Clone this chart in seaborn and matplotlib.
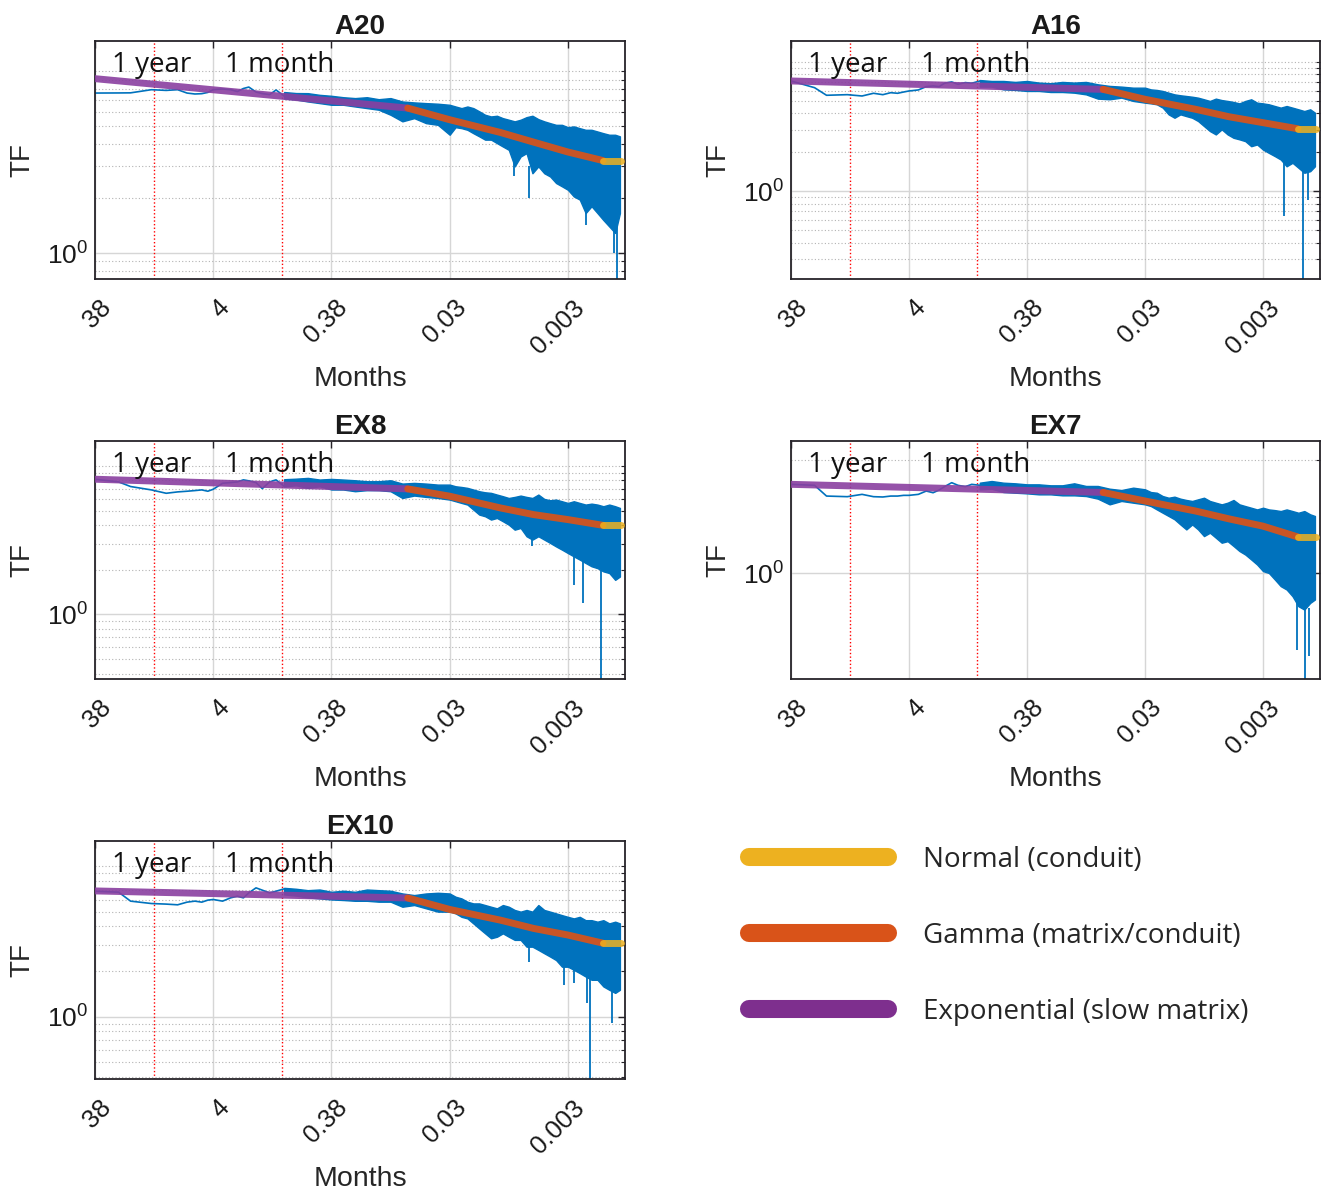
import numpy as np
import pandas as pd
import matplotlib
matplotlib.use("Agg")
import matplotlib.pyplot as plt
import seaborn as sns
from matplotlib import ticker
from matplotlib.lines import Line2D
import matplotlib.transforms as mtransforms

sns.set_theme(style="white")
plt.rcParams['font.family'] = ['Liberation Sans', 'DejaVu Sans']
plt.rcParams['mathtext.fontset'] = 'custom'
plt.rcParams['mathtext.rm'] = 'Liberation Sans'
plt.rcParams['mathtext.it'] = 'Liberation Sans:italic'
plt.rcParams['mathtext.bf'] = 'Liberation Sans:bold'

# ---------------- data ----------------
PANELS = ["A20", "A16", "EX8", "EX7", "EX10"]
XTICKS = [38, 3.8, 0.38, 0.038, 0.0038]
XTICKLABELS = ["38", "4", "0.38", "0.03", "0.003"]
XLIM = [38, 0.00125]
ONE_YEAR = 12
ONE_MONTH = 1

# period (months) of the smooth low-frequency part of the spectrum
X_LINE = [38, 24, 19, 12.67, 9.5, 7.6, 6.333, 5.429, 4.75, 4.222, 3.8, 3.167,
          2.714, 2.375, 2.111, 1.9, 1.652, 1.462, 1.267, 1.118, 0.95]
# period (months) where the spectrum is noisy (drawn as envelope)
X_BAND = [0.9545, 0.7582, 0.6022, 0.4784, 0.38, 0.3018, 0.2398, 0.1905, 0.1513, 0.1202,
          0.09545, 0.07582, 0.06022, 0.04784,
          0.038, 0.03387, 0.03018, 0.02690, 0.02398, 0.02137, 0.01905, 0.01697, 0.01513, 0.01349,
          0.01202, 0.01071, 0.009545, 0.008507, 0.007582, 0.006758, 0.006022, 0.005368, 0.004784, 0.004264,
          0.0038, 0.003387, 0.003018, 0.002690, 0.002398, 0.002137, 0.001905, 0.001697, 0.001513,
          0.00138]

X_EXP = [38, 0.086]
X_GAMMA = [0.086, 0.038, 0.01412, 0.007409, 0.0038, 0.001918]
X_NORMAL = [0.001918, 0.00135]

# --- A20
A20_LINE = [7.60, 7.61, 7.62, 7.93, 7.86, 7.93, 7.60, 7.51, 7.54, 7.66, 7.93, 8.00,
            7.93, 7.75, 8.05, 8.20, 7.70, 7.55, 7.45, 7.90, 7.30]
A20_HI = [7.70, 7.60, 7.59, 7.43, 7.34, 7.21, 7.13, 7.21, 7.03, 7.13, 6.83, 6.75, 6.69, 6.64,
          6.55, 6.41, 6.28, 6.41, 6.28, 6.03, 5.77, 5.65, 5.70, 5.53,
          5.42, 5.31, 5.42, 5.60, 5.70, 5.46, 5.31, 5.19, 5.08, 5.08,
          4.93, 4.98, 4.87, 4.77, 4.77, 4.67, 4.57, 4.48, 4.48,
          4.39]
A20_LO = [7.10, 7.00, 6.83, 6.69, 6.55, 6.55, 6.41, 6.28, 6.15, 5.77, 5.31, 5.53, 5.19, 5.08,
          4.48, 4.93, 4.87, 4.77, 4.57, 4.39, 4.21, 4.21, 4.03, 3.86,
          3.70, 3.00, 3.40, 3.55, 2.75, 3.00, 2.75, 2.64, 2.43, 2.33,
          2.23, 2.05, 1.97, 1.66, 1.81, 1.66, 1.52, 1.40, 1.29,
          1.66]
A20_SPK_X = [0.01096, 0.008125, 0.00269, 0.001548, 0.001462]
A20_SPK_LO = [2.64, 2.00, 1.43, 1.00, 0.72]
A20_SPK_TOP = [3.2, 3.0, 1.9, 1.5, 1.5]
A20_EXP = [9.12, 6.28]
A20_GAMMA = [6.28, 5.42, 4.61, 4.08, 3.60, 3.23]
A20_NORMAL = [3.23, 3.23]
A20_YLIM = [0.72, 14.7]
A20_MINOR = [0.8, 0.9, 2, 3, 4, 5, 6, 7, 8, 9, 10]

# --- A16
A16_LINE = [7.12, 6.32, 5.52, 5.58, 5.45, 5.72, 5.58, 5.78, 5.72, 5.85, 5.96, 6.07,
            6.44, 6.52, 6.44, 6.84, 7.00, 6.71, 6.92, 6.84, 7.12]
A16_HI = [7.24, 7.12, 7.12, 7.00, 7.12, 6.92, 6.84, 7.00, 6.92, 7.00, 6.71, 6.52, 6.44, 6.32,
          6.32, 6.13, 6.07, 5.96, 5.78, 5.61, 5.52, 5.45, 5.38, 5.29,
          5.14, 4.99, 5.20, 5.07, 4.99, 4.90, 4.78, 4.99, 5.14, 4.84,
          4.78, 4.70, 4.56, 4.43, 4.56, 4.43, 4.30, 4.17, 4.30,
          4.05]
A16_LO = [6.44, 6.44, 6.13, 6.07, 5.96, 5.96, 5.85, 5.85, 5.78, 5.61, 5.20, 5.14, 5.29, 4.99,
          4.84, 4.78, 4.70, 4.43, 3.93, 3.70, 3.93, 3.81, 3.70, 3.49,
          3.19, 2.92, 2.75, 3.01, 2.75, 2.59, 2.52, 2.44, 2.23, 2.30,
          2.10, 1.98, 1.87, 1.76, 1.56, 1.66, 1.52, 1.39, 1.43,
          1.56]
A16_SPK_X = [0.002511, 0.001737, 0.001584]
A16_SPK_LO = [0.64, 0.21, 0.86]
A16_SPK_TOP = [1.7, 1.5, 1.5]
A16_EXP = [7.12, 6.13]
A16_GAMMA = [6.13, 5.14, 4.30, 3.77, 3.39, 3.04]
A16_NORMAL = [3.04, 3.04]
A16_YLIM = [0.21, 14.5]
A16_MINOR = [0.3, 0.4, 0.5, 0.6, 0.7, 0.8, 0.9, 2, 3, 4, 5, 6, 7, 8, 9, 10]

# --- EX8
EX8_LINE = [8.13, 7.80, 7.26, 6.89, 6.54, 6.68, 6.75, 6.82, 6.89, 6.75, 6.96, 7.64,
            7.72, 7.80, 8.05, 7.93, 7.72, 7.03, 7.80, 8.05, 7.26]
EX8_HI = [8.13, 8.20, 8.30, 8.09, 8.17, 8.09, 8.00, 7.88, 7.88, 8.00, 7.60, 7.68, 7.60, 7.48,
          7.48, 7.29, 7.21, 7.11, 6.93, 6.75, 6.64, 6.58, 6.41, 6.25,
          6.08, 6.18, 6.31, 6.18, 6.08, 6.41, 5.99, 5.87, 5.93, 5.78,
          5.63, 5.78, 5.63, 5.49, 5.57, 5.49, 5.35, 5.49, 5.35,
          5.21]
EX8_LO = [7.26, 7.40, 7.11, 7.29, 6.93, 6.93, 6.75, 6.86, 6.86, 6.75, 6.08, 6.31, 6.18, 6.08,
          5.93, 5.78, 5.63, 5.49, 5.08, 4.70, 4.58, 4.35, 4.46, 4.24,
          4.02, 3.72, 3.82, 3.36, 3.19, 3.36, 3.19, 3.03, 2.87, 2.73,
          2.59, 2.46, 2.34, 2.22, 2.11, 2.05, 1.95, 1.90, 1.71,
          1.80]
EX8_SPK_X = [0.007582, 0.003387, 0.002817, 0.001994]
EX8_SPK_LO = [2.89, 1.58, 1.20, 0.368]
EX8_SPK_TOP = [3.3, 2.5, 2.3, 2.0]
EX8_EXP = [8.13, 7.00]
EX8_GAMMA = [7.00, 6.25, 5.21, 4.70, 4.35, 3.98]
EX8_NORMAL = [3.98, 3.98]
EX8_YLIM = [0.368, 14.7]
EX8_MINOR = [0.4, 0.5, 0.6, 0.7, 0.8, 0.9, 2, 3, 4, 5, 6, 7, 8, 9, 10]

# --- EX7
EX7_LINE = [6.13, 6.01, 4.83, 4.77, 5.00, 4.77, 4.74, 4.83, 4.83, 4.90, 4.90, 5.00,
            5.35, 5.17, 5.46, 5.85, 6.34, 6.01, 5.85, 6.13, 6.01]
EX7_HI = [6.34, 6.56, 6.34, 6.26, 6.13, 6.13, 6.01, 6.01, 6.26, 5.93, 5.93, 5.61, 5.46, 5.73,
          5.54, 5.24, 5.17, 4.83, 4.67, 4.77, 4.58, 4.46, 4.37, 4.52,
          4.67, 4.37, 4.22, 4.08, 4.22, 4.46, 4.08, 3.94, 3.81, 3.68,
          3.81, 3.68, 3.63, 3.56, 3.68, 3.56, 3.44, 3.56, 3.33,
          3.22]
EX7_LO = [5.54, 5.61, 5.24, 5.17, 5.10, 5.00, 5.00, 4.90, 4.90, 4.83, 4.58, 4.08, 4.37, 4.22,
          4.08, 3.94, 3.68, 3.44, 3.22, 3.01, 2.71, 2.45, 2.71, 2.45,
          2.14, 2.29, 2.07, 1.87, 1.93, 1.75, 1.58, 1.47, 1.33, 1.20,
          1.05, 1.01, 0.885, 0.773, 0.722, 0.630, 0.514, 0.480, 0.550,
          0.589]
EX7_SPK_X = [0.001949, 0.001659, 0.001548]
EX7_SPK_LO = [0.212, 0.117, 0.185]
EX7_SPK_TOP = [0.55, 0.5, 0.5]
EX7_EXP = [6.13, 5.20]
EX7_GAMMA = [5.20, 4.37, 3.56, 3.04, 2.62, 2.10]
EX7_NORMAL = [2.10, 2.10]
EX7_YLIM = [0.117, 14.8]
EX7_MINOR = [10]

# --- EX10
EX10_LINE = [6.82, 6.72, 5.86, 5.65, 5.60, 5.54, 5.77, 5.86, 5.77, 5.95, 6.01, 5.86,
             6.16, 6.32, 6.16, 6.65, 7.18, 6.93, 6.65, 6.82, 7.08]
EX10_HI = [7.18, 7.08, 6.93, 7.00, 6.76, 6.87, 6.76, 7.00, 6.93, 6.87, 6.59, 6.43, 6.59, 6.66,
           6.59, 6.27, 6.11, 5.81, 5.66, 5.66, 5.52, 5.38, 5.25, 5.52,
           5.38, 5.12, 4.99, 5.12, 4.99, 5.52, 5.12, 4.99, 4.86, 4.73,
           4.61, 4.50, 4.61, 4.38, 4.38, 4.28, 4.38, 4.17, 4.28,
           4.17]
EX10_LO = [6.49, 6.38, 6.20, 6.11, 6.01, 5.96, 5.89, 5.89, 5.81, 5.81, 5.38, 5.52, 5.25, 4.99,
           4.99, 4.86, 4.61, 4.50, 4.17, 3.86, 3.58, 3.32, 3.40, 3.58,
           3.40, 3.24, 3.24, 2.92, 2.92, 2.78, 2.64, 2.51, 2.38, 2.15,
           2.15, 2.05, 1.95, 1.85, 1.76, 1.76, 1.59, 1.51, 1.44,
           1.51]
EX10_SPK_X = [0.008125, 0.004072, 0.003387, 0.002629, 0.002453, 0.001621]
EX10_SPK_LO = [2.32, 1.63, 1.67, 1.23, 0.386, 0.91]
EX10_SPK_TOP = [2.95, 2.2, 2.1, 1.85, 1.8, 1.5]
EX10_EXP = [6.85, 6.15]
EX10_GAMMA = [6.15, 5.16, 4.38, 3.86, 3.49, 3.08]
EX10_NORMAL = [3.08, 3.08]
EX10_YLIM = [0.386, 14.7]
EX10_MINOR = [0.4, 0.5, 0.6, 0.7, 0.8, 0.9, 2, 3, 4, 5, 6, 7, 8, 9, 10]

LEGEND_LABELS = ["Normal (conduit)", "Gamma (matrix/conduit)", "Exponential (slow matrix)"]

DATA = {
    "A20": (A20_LINE, A20_HI, A20_LO, A20_SPK_X, A20_SPK_LO, A20_SPK_TOP, A20_EXP, A20_GAMMA, A20_NORMAL, A20_YLIM, A20_MINOR),
    "A16": (A16_LINE, A16_HI, A16_LO, A16_SPK_X, A16_SPK_LO, A16_SPK_TOP, A16_EXP, A16_GAMMA, A16_NORMAL, A16_YLIM, A16_MINOR),
    "EX8": (EX8_LINE, EX8_HI, EX8_LO, EX8_SPK_X, EX8_SPK_LO, EX8_SPK_TOP, EX8_EXP, EX8_GAMMA, EX8_NORMAL, EX8_YLIM, EX8_MINOR),
    "EX7": (EX7_LINE, EX7_HI, EX7_LO, EX7_SPK_X, EX7_SPK_LO, EX7_SPK_TOP, EX7_EXP, EX7_GAMMA, EX7_NORMAL, EX7_YLIM, EX7_MINOR),
    "EX10": (EX10_LINE, EX10_HI, EX10_LO, EX10_SPK_X, EX10_SPK_LO, EX10_SPK_TOP, EX10_EXP, EX10_GAMMA, EX10_NORMAL, EX10_YLIM, EX10_MINOR),
}

# ---------------- style ----------------
BLUE = "#0072BD"
PURPLE = "#8A3FA0"
ORANGE = "#D95319"
YELLOW = "#EDB120"
DARK = "#262329"
GRID = "#d6d6d6"
MINOR_GRID = "#b3b3b3"

W, H = 1323, 1195
fig = plt.figure(figsize=(W / 100, H / 100), dpi=100)
fig.patch.set_facecolor("white")

LAYOUT = {"A20": (95, 41, 530), "A16": (791, 41, 529),
          "EX8": (95, 441, 530), "EX7": (791, 441, 529),
          "EX10": (95, 841, 530)}
AX_H = 238

for name in PANELS:
    line, hi, lo, sx, slo, stop, yexp, ygam, ynorm, ylim, minor = DATA[name]
    x0, y0, w = LAYOUT[name]
    ax = fig.add_axes([x0 / W, 1 - (y0 + AX_H) / H, w / W, AX_H / H])
    ax.set_xscale("log")
    ax.set_yscale("log")
    ax.set_facecolor("white")

    # reference lines
    ax.axvline(ONE_YEAR, color="red", ls=(0, (1, 1.6)), lw=1.0, zorder=1.5)
    ax.axvline(ONE_MONTH, color="red", ls=(0, (1, 1.6)), lw=1.0, zorder=1.5)

    # observed transfer function
    ax.fill_between(X_BAND, lo, hi, color=BLUE, linewidth=1.0, zorder=2)
    ax.vlines(sx, slo, stop, color=BLUE, lw=1.3, zorder=2)
    sns.lineplot(x=X_LINE, y=line, ax=ax, color=BLUE, lw=1.2, estimator=None,
                 sort=False, legend=False, zorder=2)

    # model fits
    sns.lineplot(x=X_EXP, y=yexp, ax=ax, color=PURPLE, lw=5.0, alpha=0.9,
                 estimator=None, sort=False, legend=False, zorder=3)
    sns.lineplot(x=X_GAMMA, y=ygam, ax=ax, color=ORANGE, lw=5.0, alpha=0.92,
                 estimator=None, sort=False, legend=False, zorder=3)
    sns.lineplot(x=X_NORMAL, y=ynorm, ax=ax, color=YELLOW, lw=5.0, alpha=0.85,
                 estimator=None, sort=False, legend=False, zorder=4)

    ax.set_xlim(XLIM)
    ax.set_ylim(ylim)

    # ticks
    ax.xaxis.set_major_locator(ticker.FixedLocator(XTICKS))
    ax.xaxis.set_major_formatter(ticker.FixedFormatter(XTICKLABELS))
    ax.xaxis.set_minor_locator(ticker.NullLocator())
    ax.yaxis.set_major_locator(ticker.FixedLocator([1]))
    ax.yaxis.set_major_formatter(ticker.LogFormatterSciNotation())
    ax.yaxis.set_minor_locator(ticker.FixedLocator(minor))
    ax.yaxis.set_minor_formatter(ticker.NullFormatter())

    ax.tick_params(which="both", direction="in", top=True, right=True,
                   color=DARK, labelcolor="#1a1a1a")
    ax.tick_params(which="major", length=5, width=1.0)
    ax.tick_params(which="minor", length=3, width=0.8)
    ax.tick_params(axis="x", labelsize=18.5, pad=18)
    ax.tick_params(axis="y", labelsize=19, pad=5)
    for lab in ax.get_xticklabels():
        lab.set_rotation(45)
        lab.set_ha("right")
        lab.set_va("center")
        lab.set_rotation_mode("anchor")
        lab.set_transform(lab.get_transform() +
                          mtransforms.ScaledTranslation(9 / 72, 0, fig.dpi_scale_trans))

    # grid
    ax.set_axisbelow(True)
    ax.grid(True, which="major", axis="both", color=GRID, lw=1.0, ls="-")
    ax.grid(True, which="minor", axis="y", color=MINOR_GRID, lw=0.8, ls=(0, (1, 2)))

    for sp in ax.spines.values():
        sp.set_color(DARK)
        sp.set_linewidth(1.3)
        sp.set_visible(True)

    ax.set_title(name, fontsize=20, fontweight="bold", pad=5, color="#1a1a1a")
    ax.set_xlabel("Months", fontsize=20.5, color="#262626")
    ax.set_ylabel("TF", fontsize=20, color="#262626")
    ax.xaxis.set_label_coords(0.5, -0.365)
    ax.yaxis.set_label_coords(-0.112, 0.5)

    ax.text(0.032, 0.90, "1 year", transform=ax.transAxes, fontsize=20,
            family=["Open Sans", "DejaVu Sans"], va="center", ha="left", color="#111111", zorder=5)
    ax.text(0.245, 0.90, "1 month", transform=ax.transAxes, fontsize=20,
            family=["Open Sans", "DejaVu Sans"], va="center", ha="left", color="#111111", zorder=5)

# legend
handles = [Line2D([], [], color=YELLOW, lw=13, solid_capstyle="round"),
           Line2D([], [], color=ORANGE, lw=13, solid_capstyle="round"),
           Line2D([], [], color="#7E2F8E", lw=13, solid_capstyle="round")]
fig.legend(handles, LEGEND_LABELS, loc="upper left",
           bbox_to_anchor=(749 / W, 1 - 846 / H), frameon=False,
           prop={"family": ["Open Sans", "DejaVu Sans"], "size": 20},
           handlelength=5.0, handletextpad=1.25, labelspacing=1.72,
           borderpad=0, borderaxespad=0)

fig.savefig("out.png", dpi=100, facecolor="white")
